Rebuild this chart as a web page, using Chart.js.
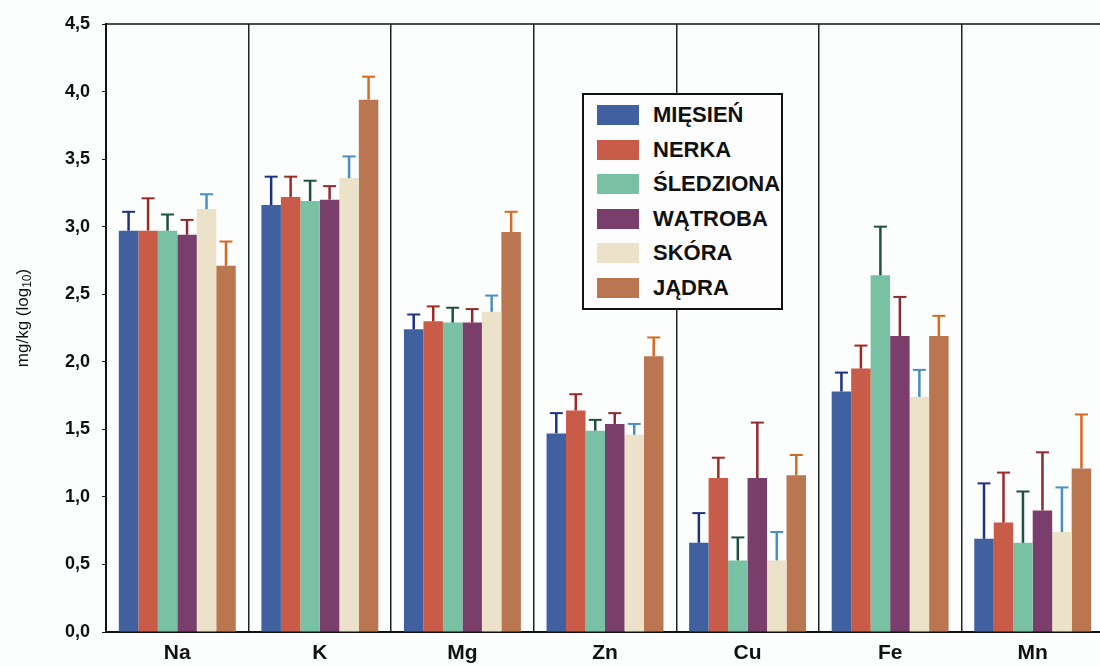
<!DOCTYPE html>
<html>
<head>
<meta charset="utf-8">
<script src="https://cdn.jsdelivr.net/npm/chart.js@4/dist/chart.umd.min.js"></script>
<style>
    html, body { margin: 0; padding: 0; background: #fcfdfd; overflow: hidden; }
    #wrap { position: absolute; left: 0; top: 0; width: 1104px; height: 666px; }
    #legend {
        position: absolute; left: 582px; top: 93px; width: 197px; height: 213px;
        border: 2px solid #111; background: #fdfdfd; overflow: hidden;
        font-family: "Liberation Sans", Arial, sans-serif; font-weight: bold; font-size: 22px; color: #111;
    }
    .row { position: absolute; left: 13px; height: 22px; white-space: nowrap; }
    .sw { position: absolute; left: 0; top: 0; width: 42px; height: 20px; }
    .lb { position: absolute; left: 56px; top: -3px; line-height: 26px; }
</style>
</head>
<body>
<div id="wrap"><canvas id="metalChart"></canvas></div>
<div id="legend"></div>
<script>
// pierwiastki
const elements = ['Na', 'K', 'Mg', 'Zn', 'Cu', 'Fe', 'Mn'];
const seriesNames = ['MIĘSIEŃ', 'NERKA', 'ŚLEDZIONA', 'WĄTROBA', 'SKÓRA', 'JĄDRA'];

// srednie (log10 mg/kg)
const miesien   = [2.97, 3.16, 2.24, 1.47, 0.66, 1.78, 0.69];
const nerka     = [2.97, 3.22, 2.30, 1.64, 1.14, 1.95, 0.81];
const sledziona = [2.97, 3.19, 2.29, 1.49, 0.53, 2.64, 0.66];
const watroba   = [2.94, 3.20, 2.29, 1.54, 1.14, 2.19, 0.90];
const skora     = [3.13, 3.36, 2.37, 1.46, 0.53, 1.74, 0.74];
const jadra     = [2.71, 3.94, 2.96, 2.04, 1.16, 2.19, 1.21];

// odchylenia (gorne wasy)
const miesienSd   = [0.14, 0.21, 0.11, 0.15, 0.22, 0.14, 0.41];
const nerkaSd     = [0.24, 0.15, 0.11, 0.12, 0.15, 0.17, 0.37];
const sledzionaSd = [0.12, 0.15, 0.11, 0.08, 0.17, 0.36, 0.38];
const watrobaSd   = [0.11, 0.10, 0.10, 0.08, 0.41, 0.29, 0.43];
const skoraSd     = [0.11, 0.16, 0.12, 0.08, 0.21, 0.20, 0.33];
const jadraSd     = [0.18, 0.17, 0.15, 0.14, 0.15, 0.15, 0.40];

const yTicks = [0, 0.5, 1, 1.5, 2, 2.5, 3, 3.5, 4, 4.5];

const fillColors  = ['#41609f', '#c95b49', '#79c1a5', '#7a3e6d', '#ebe2c9', '#b97651'];
const errorColors = ['#1d3282', '#9e2a24', '#1f5040', '#8e2a30', '#4a8ec4', '#d76a22'];

const values = [miesien, nerka, sledziona, watroba, skora, jadra];
const errors = [miesienSd, nerkaSd, sledzionaSd, watrobaSd, skoraSd, jadraSd];

const FONT = '"Liberation Sans", Arial, sans-serif';

const errorBars = {
    id: 'errorBars',
    afterDatasetsDraw(chart) {
        const ctx = chart.ctx;
        const y = chart.scales.y;
        chart.data.datasets.forEach((ds, i) => {
            const meta = chart.getDatasetMeta(i);
            meta.data.forEach((bar, j) => {
                const top = y.getPixelForValue(ds.data[j] + ds.errors[j]);
                ctx.save();
                ctx.strokeStyle = ds.errorColor;
                ctx.lineWidth = 2.5;
                ctx.beginPath();
                ctx.moveTo(bar.x, bar.y);
                ctx.lineTo(bar.x, top);
                ctx.stroke();
                ctx.lineWidth = 2;
                ctx.beginPath();
                ctx.moveTo(bar.x - 6.5, top);
                ctx.lineTo(bar.x + 6.5, top);
                ctx.stroke();
                ctx.restore();
            });
        });
    }
};

// ramka u gory + tytul osi Y z indeksem dolnym
const frameAndTitle = {
    id: 'frameAndTitle',
    afterDraw(chart) {
        const ctx = chart.ctx;
        const a = chart.chartArea;
        ctx.save();
        ctx.strokeStyle = '#111';
        ctx.lineWidth = 1.5;
        ctx.beginPath();
        ctx.moveTo(a.left, a.top);
        ctx.lineTo(a.right, a.top);
        ctx.stroke();

        ctx.translate(23, 318);
        ctx.rotate(-Math.PI / 2);
        ctx.fillStyle = '#111';
        ctx.textBaseline = 'middle';
        const main = 'mg/kg (log';
        const sub = '10';
        ctx.font = '17px ' + FONT;
        const w1 = ctx.measureText(main).width;
        const w3 = ctx.measureText(')').width;
        ctx.font = '12px ' + FONT;
        const w2 = ctx.measureText(sub).width;
        let x = -(w1 + w2 + w3) / 2;
        ctx.font = '17px ' + FONT;
        ctx.fillText(main, x, 0);
        x += w1;
        ctx.font = '12px ' + FONT;
        ctx.fillText(sub, x, 5);
        x += w2;
        ctx.font = '17px ' + FONT;
        ctx.fillText(')', x, 0);
        ctx.restore();
    }
};

const datasets = seriesNames.map((name, i) => ({
    label: name,
    data: values[i],
    errors: errors[i],
    errorColor: errorColors[i],
    backgroundColor: fillColors[i],
    borderWidth: 0,
    barPercentage: 1.0,
    categoryPercentage: 0.82
}));

const metalChart = new Chart(document.getElementById('metalChart'), {
    type: 'bar',
    data: { labels: elements, datasets: datasets },
    options: {
        responsive: true,
        maintainAspectRatio: false,
        animation: false,
        layout: { padding: { left: 0, right: 0, top: 24, bottom: 0 } },
        plugins: {
            legend: { display: false },
            tooltip: { enabled: false }
        },
        scales: {
            x: {
                offset: true,
                grid: { display: true, offset: true, color: '#222', lineWidth: 1.5, drawTicks: false },
                border: { display: true, color: '#111', width: 2 },
                ticks: { color: '#111', padding: 9, font: { family: FONT, size: 21, weight: 'bold' } },
                afterFit: (scale) => { scale.height = 34; }
            },
            y: {
                min: 0,
                max: 4.5,
                afterBuildTicks: (scale) => { scale.ticks = yTicks.map(v => ({ value: v })); },
                grid: { drawOnChartArea: false, drawTicks: true, tickLength: 4, color: '#111' },
                border: { display: true, color: '#111', width: 2 },
                ticks: {
                    color: '#111',
                    padding: 12,
                    font: { family: FONT, size: 18, weight: 'bold' },
                    callback: (v) => Number(v).toFixed(1).replace('.', ',')
                },
                afterFit: (scale) => { scale.width = 106; }
            }
        }
    },
    plugins: [errorBars, frameAndTitle]
});

// legenda w ramce
const legendBox = document.getElementById('legend');
seriesNames.forEach((name, i) => {
    const row = document.createElement('div');
    row.className = 'row';
    row.style.top = (10 + i * 34.5) + 'px';
    row.innerHTML = '<div class="sw" style="background:' + fillColors[i] + '"></div><div class="lb">' + name + '</div>';
    legendBox.appendChild(row);
});
</script>
</body>
</html>
